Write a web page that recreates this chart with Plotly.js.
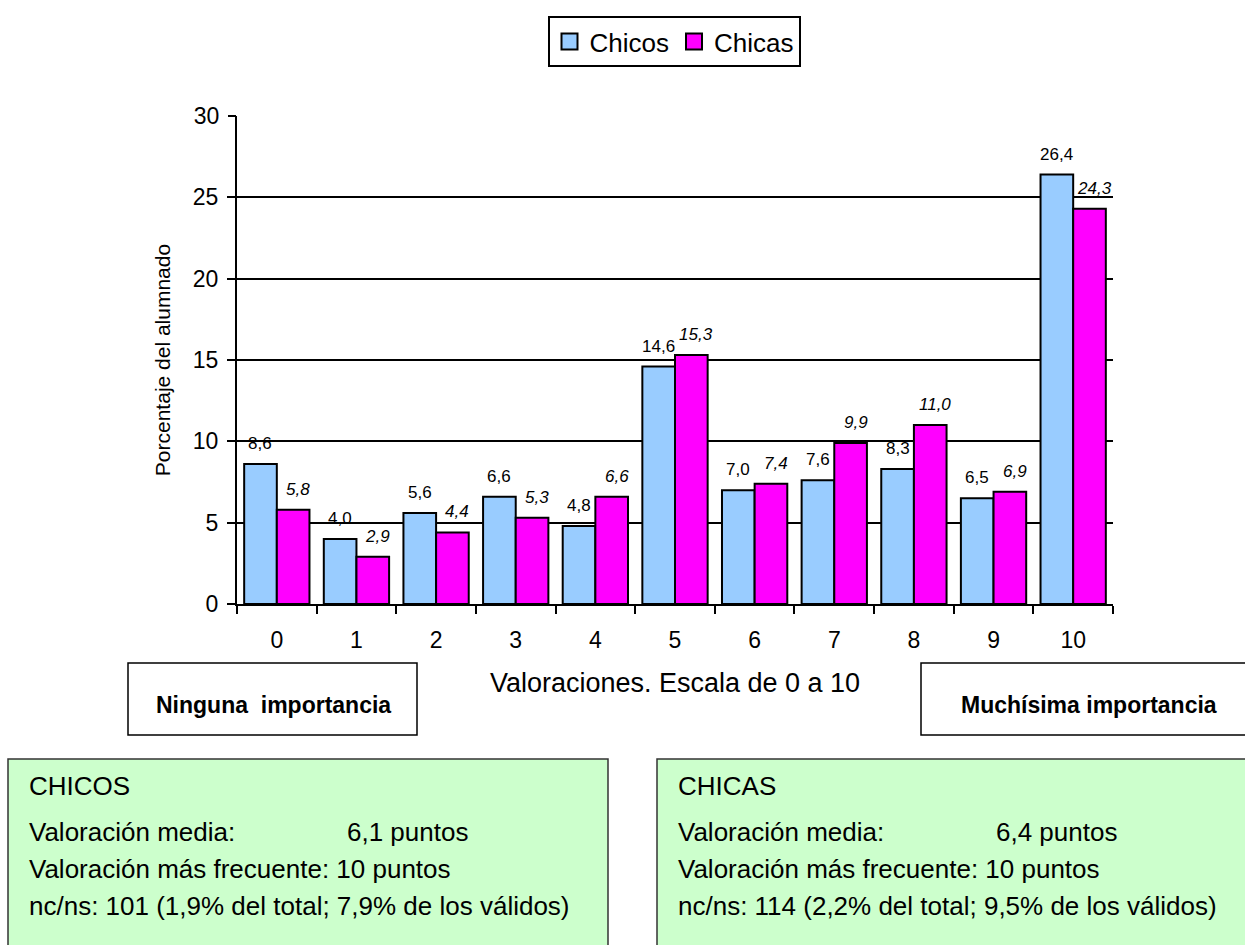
<!DOCTYPE html>
<html>
<head>
<meta charset="utf-8">
<script src="https://cdn.plot.ly/plotly-3.0.1.min.js"></script>
<style>
  html, body { margin: 0; padding: 0; background: #ffffff; }
  #chart { width: 1245px; height: 945px; }
</style>
</head>
<body>
<div id="chart"></div>
<script>
// ---------- data ----------
const categories = ['0', '1', '2', '3', '4', '5', '6', '7', '8', '9', '10'];
const chicos = [8.6, 4.0, 5.6, 6.6, 4.8, 14.6, 7.0, 7.6, 8.3, 6.5, 26.4];
const chicas = [5.8, 2.9, 4.4, 5.3, 6.6, 15.3, 7.4, 9.9, 11.0, 6.9, 24.3];
const seriesNames = ['Chicos', 'Chicas'];
const yTicks = [0, 5, 10, 15, 20, 25, 30];
const xTitle = 'Valoraciones. Escala de 0 a 10';
const yTitle = 'Porcentaje del alumnado';
const leftNote = 'Ninguna\u00A0 importancia';
const rightNote = 'Muchísima importancia';
const chicosSummary = ['CHICOS', 'Valoración media:', 'Valoración más frecuente: 10 puntos', 'nc/ns: 101 (1,9% del total; 7,9% de los válidos)'];
const chicosMedia = '6,1 puntos';
const chicasSummary = ['CHICAS', 'Valoración media:', 'Valoración más frecuente: 10 puntos', 'nc/ns: 114 (2,2% del total; 9,5% de los válidos)'];
const chicasMedia = '6,4 puntos';

// ---------- styling ----------
const FONT = '"Liberation Sans", Arial, Helvetica, sans-serif';
const BLUE = '#99CCFF';
const PINK = '#FF00FF';
const GREEN = '#CCFFCC';
const W = 1245, H = 945;
const M = { l: 237, r: 132, t: 116, b: 341 };
const plotW = W - M.l - M.r, plotH = H - M.t - M.b;
const fx = px => (px - M.l) / plotW;
const fy = py => (H - M.b - py) / plotH;
const BARGAP = 0.18;
const half = (1 - BARGAP) / 4;
const yMax = yTicks[yTicks.length - 1];

const fmt = v => v.toFixed(1).replace('.', ',');

const traces = [
  {
    type: 'bar', x: categories, y: chicos, name: seriesNames[0], showlegend: false,
    marker: { color: BLUE, line: { color: '#000', width: 2 } }, hoverinfo: 'x+y'
  },
  {
    type: 'bar', x: categories, y: chicas, name: seriesNames[1], showlegend: false,
    marker: { color: PINK, line: { color: '#000', width: 2 } }, hoverinfo: 'x+y'
  },
  {
    type: 'scatter', mode: 'markers', x: [null], y: [null], yaxis: 'y2', name: seriesNames[0], hoverinfo: 'skip',
    marker: { symbol: 'square', size: 16, color: BLUE, line: { color: '#000', width: 2 } }
  },
  {
    type: 'scatter', mode: 'markers', x: [null], y: [null], yaxis: 'y2', name: seriesNames[1], hoverinfo: 'skip',
    marker: { symbol: 'square', size: 16, color: PINK, line: { color: '#000', width: 2 } }
  }
];

const annotations = [];
chicos.forEach((v, i) => annotations.push({
  x: i - half, y: v, xref: 'x', yref: 'y', text: fmt(v), showarrow: false,
  yanchor: 'bottom', yshift: 9, font: { family: FONT, size: 17, color: '#000' }
}));
chicas.forEach((v, i) => annotations.push({
  x: i + half, y: v, xref: 'x', yref: 'y', text: '<i>' + fmt(v) + '</i>', showarrow: false,
  yanchor: 'bottom', yshift: 9, xshift: 5, font: { family: FONT, size: 17, color: '#000' }
}));

// note boxes text
annotations.push({ xref: 'paper', yref: 'paper', x: fx(273), y: fy(705), text: '<b>' + leftNote + '</b>',
  showarrow: false, xanchor: 'center', yanchor: 'middle', font: { family: FONT, size: 23, color: '#000' } });
annotations.push({ xref: 'paper', yref: 'paper', x: fx(1089), y: fy(705), text: '<b>' + rightNote + '</b>',
  showarrow: false, xanchor: 'center', yanchor: 'middle', font: { family: FONT, size: 23, color: '#000' } });

// summary boxes text
const lineY = [786, 832, 869, 906];
function addSummary(lines, media, x0, xMedia) {
  lines.forEach((t, k) => annotations.push({
    xref: 'paper', yref: 'paper', x: fx(x0), y: fy(lineY[k]), text: t, showarrow: false,
    xanchor: 'left', yanchor: 'middle', font: { family: FONT, size: 26, color: '#000' }
  }));
  annotations.push({
    xref: 'paper', yref: 'paper', x: fx(xMedia), y: fy(lineY[1]), text: media, showarrow: false,
    xanchor: 'left', yanchor: 'middle', font: { family: FONT, size: 26, color: '#000' }
  });
}
addSummary(chicosSummary, chicosMedia, 27, 345);
addSummary(chicasSummary, chicasMedia, 676, 994);

const shapes = [
  { type: 'rect', xref: 'paper', yref: 'paper', x0: fx(128), x1: fx(417), y0: fy(663), y1: fy(735),
    line: { color: '#000', width: 1.5 }, fillcolor: '#fff', layer: 'below' },
  { type: 'rect', xref: 'paper', yref: 'paper', x0: fx(921), x1: fx(1260), y0: fy(663), y1: fy(735),
    line: { color: '#000', width: 1.5 }, fillcolor: '#fff', layer: 'below' },
  { type: 'rect', xref: 'paper', yref: 'paper', x0: fx(8), x1: fx(608), y0: fy(759), y1: fy(960),
    line: { color: '#333', width: 1.5 }, fillcolor: GREEN, layer: 'below' },
  { type: 'rect', xref: 'paper', yref: 'paper', x0: fx(657), x1: fx(1260), y0: fy(759), y1: fy(960),
    line: { color: '#333', width: 1.5 }, fillcolor: GREEN, layer: 'below' }
];

const layout = {
  width: W, height: H,
  margin: M,
  paper_bgcolor: '#fff', plot_bgcolor: '#fff',
  font: { family: FONT, color: '#000' },
  barmode: 'group', bargap: BARGAP, bargroupgap: 0,
  showlegend: true,
  legend: {
    orientation: 'h', x: fx(674), xanchor: 'center', y: fy(16), yanchor: 'top',
    bordercolor: '#000', borderwidth: 2, bgcolor: '#fff',
    font: { family: FONT, size: 26, color: '#000' }, itemclick: false, itemdoubleclick: false
  },
  xaxis: {
    type: 'category', range: [-0.5, 10.5], tickson: 'boundaries',
    ticks: 'outside', ticklen: 8, tickwidth: 2, tickcolor: '#000',
    showline: true, linecolor: '#000', linewidth: 2, showgrid: false, zeroline: false,
    tickfont: { family: FONT, size: 23, color: '#000' }, ticklabelstandoff: 14,
    title: { text: xTitle, font: { family: FONT, size: 27, color: '#000' }, standoff: 22 },
    fixedrange: true
  },
  yaxis: {
    range: [0, yMax], tickvals: yTicks.filter(v => v < yMax), ticktext: yTicks.filter(v => v < yMax).map(String),
    ticks: 'outside', ticklen: 8, tickwidth: 2, tickcolor: '#000',
    showline: true, linecolor: '#000', linewidth: 2,
    showgrid: true, gridcolor: '#000', gridwidth: 2, zeroline: false,
    tickfont: { family: FONT, size: 23, color: '#000' }, ticklabelstandoff: 4,
    title: { text: yTitle, font: { family: FONT, size: 21, color: '#000' }, standoff: 16 },
    fixedrange: true
  },
  yaxis2: {
    overlaying: 'y', side: 'left', anchor: 'x', range: [0, yMax],
    tickvals: yTicks.filter(v => v === yMax), ticktext: yTicks.filter(v => v === yMax).map(String),
    showgrid: true, gridcolor: '#c0c0c0', gridwidth: 1,
    ticks: 'outside', ticklen: 8, tickwidth: 2, tickcolor: '#000',
    tickfont: { family: FONT, size: 23, color: '#000' }, ticklabelstandoff: 4,
    zeroline: false, showline: false, fixedrange: true
  },
  annotations: annotations,
  shapes: shapes
};

Plotly.newPlot('chart', traces, layout, { displayModeBar: false, responsive: false });
</script>
</body>
</html>
